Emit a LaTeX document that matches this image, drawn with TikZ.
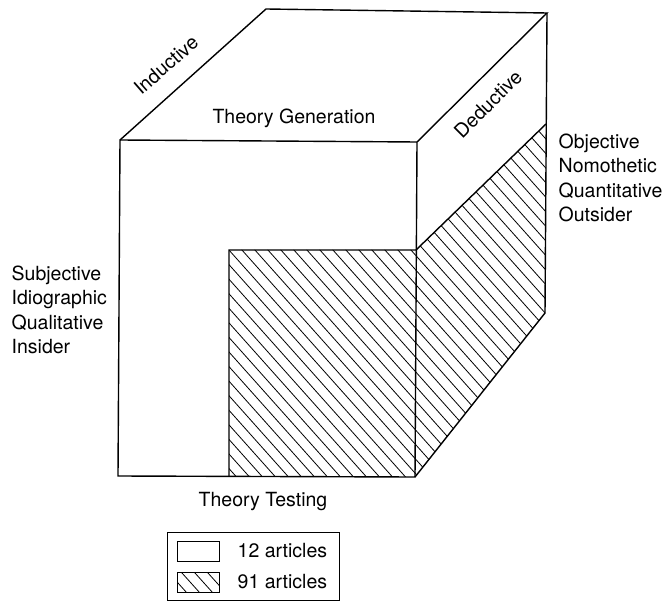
\documentclass[tikz,border=0pt]{standalone}
\usepackage{fontspec}
\setmainfont{TeX Gyre Heros}
\tikzset{cb/.style={x=1pt,y=1pt,line width=1.4pt,font=\fontsize{19.5}{24.5}\selectfont},
  hatch/.style={line width=.8pt},
  lbl/.style={inner sep=0pt}}

\begin{document}
\begin{tikzpicture}[cb]
  \useasboundingbox (0,0) rectangle (668,603);
  % corners of the cube
  \coordinate (ftl) at (120,463);\coordinate (ftr) at (417,461);
  \coordinate (fbr) at (415,126);\coordinate (fbl) at (118,127);
  \coordinate (btl) at (266,594);\coordinate (btr) at (547,590);
  \coordinate (bbr) at (545,290);
  % corners of the hatched part
  \coordinate (htl) at (229,353);\coordinate (htr) at (416,353);
  \coordinate (hbl) at (229,127);\coordinate (hr) at (546,479);
  % hatching (91 articles)
  \begin{scope}
    \clip (htl)--(htr)--(hr)--(bbr)--(fbr)--(hbl)--cycle;
    \foreach \c in {336,349,...,990}{\draw[hatch] (\c,0)--++(-540,605);}
  \end{scope}
  % outline
  \draw (fbl)--(ftl)--(ftr)--(fbr)--cycle;
  \draw (ftl)--(btl)--(btr)--(ftr);
  \draw (btr)--(bbr)--(fbr);
  \draw (hbl)--(htl)--(htr)--(hr);
  % labels
  \node[lbl,rotate=41] (ind) at (166,538) {Inductive};
  \node[lbl] (gen) at (294,485) {Theory Generation};
  \node[lbl,rotate=45] (ded) at (488,499) {Deductive};
  \node[lbl,anchor=north west,align=left] (obj) at (558,470) {Objective\\Nomothetic\\Quantitative\\Outsider};
  \node[lbl,anchor=north west,align=left] (subj) at (11,338) {Subjective\\Idiographic\\Qualitative\\Insider};
  \node[lbl] (test) at (263,101) {Theory Testing};
  % legend
  \draw[line width=1pt] (167,71) rectangle (339,3);
  \draw[line width=1pt] (177,62) rectangle (219,42);
  \begin{scope}
    \clip (177,31) rectangle (219,11);
    \foreach \c in {183,196,...,250}{\draw[hatch] (\c,0)--++(-36,40);}
  \end{scope}
  \draw[line width=1pt] (177,31) rectangle (219,11);
  \node[lbl,anchor=west] (n12) at (237,52) {12 articles};
  \node[lbl,anchor=west] (n91) at (237,21) {91 articles};
\end{tikzpicture}
\end{document}
